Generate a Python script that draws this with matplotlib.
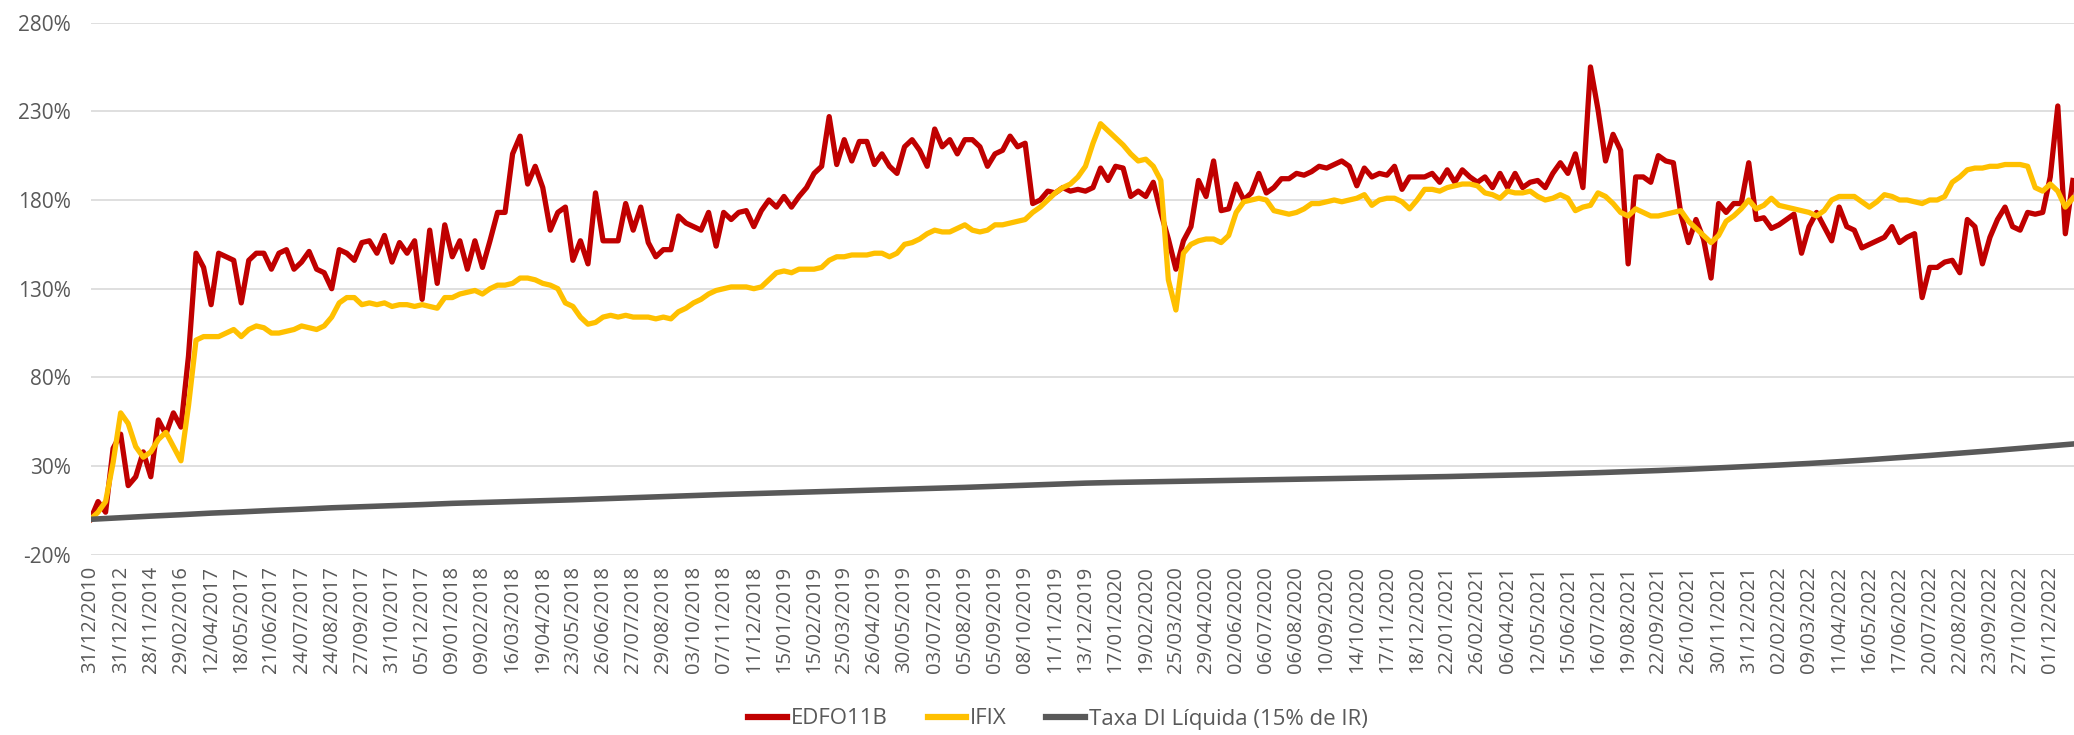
import numpy as np
import matplotlib
matplotlib.use("Agg")
import matplotlib.pyplot as plt

# ---------------- data ----------------
tick_labels = [
    "31/12/2010", "31/12/2012", "28/11/2014", "29/02/2016", "12/04/2017", "18/05/2017",
    "21/06/2017", "24/07/2017", "24/08/2017", "27/09/2017", "31/10/2017", "05/12/2017",
    "09/01/2018", "09/02/2018", "16/03/2018", "19/04/2018", "23/05/2018", "26/06/2018",
    "27/07/2018", "29/08/2018", "03/10/2018", "07/11/2018", "11/12/2018", "15/01/2019",
    "15/02/2019", "25/03/2019", "26/04/2019", "30/05/2019", "03/07/2019", "05/08/2019",
    "05/09/2019", "08/10/2019", "11/11/2019", "13/12/2019", "17/01/2020", "19/02/2020",
    "25/03/2020", "29/04/2020", "02/06/2020", "06/07/2020", "06/08/2020", "10/09/2020",
    "14/10/2020", "17/11/2020", "18/12/2020", "22/01/2021", "26/02/2021", "06/04/2021",
    "12/05/2021", "15/06/2021", "16/07/2021", "19/08/2021", "22/09/2021", "26/10/2021",
    "30/11/2021", "31/12/2021", "02/02/2022", "09/03/2022", "11/04/2022", "16/05/2022",
    "17/06/2022", "20/07/2022", "22/08/2022", "23/09/2022", "27/10/2022", "01/12/2022",
]

# cumulative return (%) sampled 4 times per labelled category interval
edfo11b = [
    0, 10, 4, 40,   48, 19, 24, 38,   24, 56, 48, 60,   52, 92, 150, 142,
    121, 150, 148, 146,   122, 146, 150, 150,   141, 150, 152, 141,   145, 151, 141, 139,
    130, 152, 150, 146,   156, 157, 150, 160,   145, 156, 150, 157,   124, 163, 133, 166,
    148, 157, 141, 157,   142, 157, 173, 173,   206, 216, 189, 199,   187, 163, 173, 176,
    146, 157, 144, 184,   157, 157, 157, 178,   163, 176, 156, 148,   152, 152, 171, 167,
    165, 163, 173, 154,   173, 169, 173, 174,   165, 174, 180, 176,   182, 176, 182, 187,
    195, 199, 227, 200,   214, 202, 213, 213,   200, 206, 199, 195,   210, 214, 208, 199,
    220, 210, 214, 206,   214, 214, 210, 199,   206, 208, 216, 210,   212, 178, 180, 185,
    184, 187, 185, 186,   185, 187, 198, 191,   199, 198, 182, 185,   182, 190, 173, 158,
    141, 157, 165, 191,   182, 202, 174, 175,   189, 180, 184, 195,   184, 187, 192, 192,
    195, 194, 196, 199,   198, 200, 202, 199,   188, 198, 193, 195,   194, 199, 186, 193,
    193, 193, 195, 190,   197, 190, 197, 193,   190, 193, 187, 195,   187, 195, 187, 190,
    191, 187, 195, 201,   195, 206, 187, 255,   231, 202, 217, 208,   144, 193, 193, 190,
    205, 202, 201, 172,   156, 169, 158, 136,   178, 173, 178, 178,   201, 169, 170, 164,
    166, 169, 172, 150,   165, 173, 165, 157,   176, 165, 163, 153,   155, 157, 159, 165,
    156, 159, 161, 125,   142, 142, 145, 146,   139, 169, 165, 144,   159, 169, 176, 165,
    163, 173, 172, 173,   193, 233, 161, 191,
]

ifix = [
    0, 4, 10, 32,   60, 54, 41, 35,   38, 45, 49, 41,   33, 64, 101, 103,
    103, 103, 105, 107,   103, 107, 109, 108,   105, 105, 106, 107,   109, 108, 107, 109,
    114, 122, 125, 125,   121, 122, 121, 122,   120, 121, 121, 120,   121, 120, 119, 125,
    125, 127, 128, 129,   127, 130, 132, 132,   133, 136, 136, 135,   133, 132, 130, 122,
    120, 114, 110, 111,   114, 115, 114, 115,   114, 114, 114, 113,   114, 113, 117, 119,
    122, 124, 127, 129,   130, 131, 131, 131,   130, 131, 135, 139,   140, 139, 141, 141,
    141, 142, 146, 148,   148, 149, 149, 149,   150, 150, 148, 150,   155, 156, 158, 161,
    163, 162, 162, 164,   166, 163, 162, 163,   166, 166, 167, 168,   169, 173, 176, 180,
    184, 187, 189, 193,   199, 212, 223, 219,   215, 211, 206, 202,   203, 199, 191, 135,
    118, 150, 155, 157,   158, 158, 156, 160,   173, 179, 180, 181,   180, 174, 173, 172,
    173, 175, 178, 178,   179, 180, 179, 180,   181, 183, 177, 180,   181, 181, 179, 175,
    180, 186, 186, 185,   187, 188, 189, 189,   188, 184, 183, 181,   185, 184, 184, 185,
    182, 180, 181, 183,   181, 174, 176, 177,   184, 182, 178, 173,   171, 175, 173, 171,
    171, 172, 173, 174,   168, 164, 160, 156,   160, 168, 171, 175,   180, 175, 177, 181,
    177, 176, 175, 174,   173, 171, 174, 180,   182, 182, 182, 179,   176, 179, 183, 182,
    180, 180, 179, 178,   180, 180, 182, 190,   193, 197, 198, 198,   199, 199, 200, 200,
    200, 199, 187, 185,   189, 185, 176, 181,
]

# net DI rate (15% IR), one value per labelled category
taxa_di = [
    0, 0.9, 1.8, 2.6, 3.5, 4.2, 5.0, 5.7, 6.5, 7.1, 7.7, 8.3, 9.0, 9.5, 10.0, 10.5,
    11.0, 11.6, 12.2, 12.8, 13.4, 14.0, 14.5, 15.0, 15.5, 16.0, 16.5, 17.0, 17.5, 18.0,
    18.6, 19.2, 19.8, 20.4, 20.8, 21.1, 21.4, 21.7, 22.0, 22.3, 22.6, 22.9, 23.2, 23.5,
    23.8, 24.1, 24.5, 24.9, 25.3, 25.8, 26.3, 26.9, 27.5, 28.2, 29.0, 29.8, 30.6, 31.5,
    32.5, 33.6, 34.8, 36.0, 37.3, 38.6, 40.0, 41.4, 42.8,
]

series_names = ["EDFO11B", "IFIX", "Taxa DI Líquida (15% de IR)"]
series_colors = ["#C00000", "#FFC000", "#595959"]
y_ticks = [-20, 30, 80, 130, 180, 230, 280]

# ---------------- figure ----------------
FONT = "Open Sans"
TXT = "#595959"
W, H = 2074, 735
fig = plt.figure(figsize=(W / 100, H / 100), dpi=100)
left_px, right_px = 90.5, 2074
top_px, bot_px = 22.6, 554.8
ax = fig.add_axes([left_px / W, 1 - bot_px / H, (right_px - left_px) / W, (bot_px - top_px) / H])

spt = 4  # samples per labelled category
x_red = np.arange(len(edfo11b)) / spt
x_yel = np.arange(len(ifix)) / spt
x_di = np.arange(len(taxa_di))

ax.plot(x_red, edfo11b, color=series_colors[0], lw=3.8, solid_joinstyle="round", label=series_names[0])
ax.plot(x_yel, ifix, color=series_colors[1], lw=3.8, solid_joinstyle="round", label=series_names[1])
ax.plot(x_di, taxa_di, color=series_colors[2], lw=4.0, label=series_names[2])

ax.set_xlim(0, (right_px - left_px) / 30.15)
ax.set_ylim(-20, 280)
ax.set_yticks(y_ticks)
ax.set_yticklabels([f"{v}%" for v in y_ticks], fontfamily=FONT, fontsize=15, color=TXT)
ax.set_xticks(np.arange(len(tick_labels)))
ax.set_xticklabels(tick_labels, rotation=90, fontfamily=FONT, fontsize=14.5, color=TXT)
ax.tick_params(axis="both", length=0)
ax.tick_params(axis="y", pad=14)
ax.tick_params(axis="x", pad=8)

for s in ax.spines.values():
    s.set_visible(False)
ax.yaxis.grid(True, color="#D9D9D9", linewidth=1.2)
ax.set_axisbelow(True)

leg = fig.legend(loc="center", bbox_to_anchor=(1058 / W, (H - 719) / H), ncol=3, frameon=False,
                 prop={"family": FONT, "size": 16}, handlelength=1.75, handletextpad=0.15,
                 columnspacing=1.8, borderpad=0.0)
for t in leg.get_texts():
    t.set_color(TXT)
for l in leg.get_lines():
    l.set_linewidth(4.5)

fig.savefig("out.png", dpi=100)
